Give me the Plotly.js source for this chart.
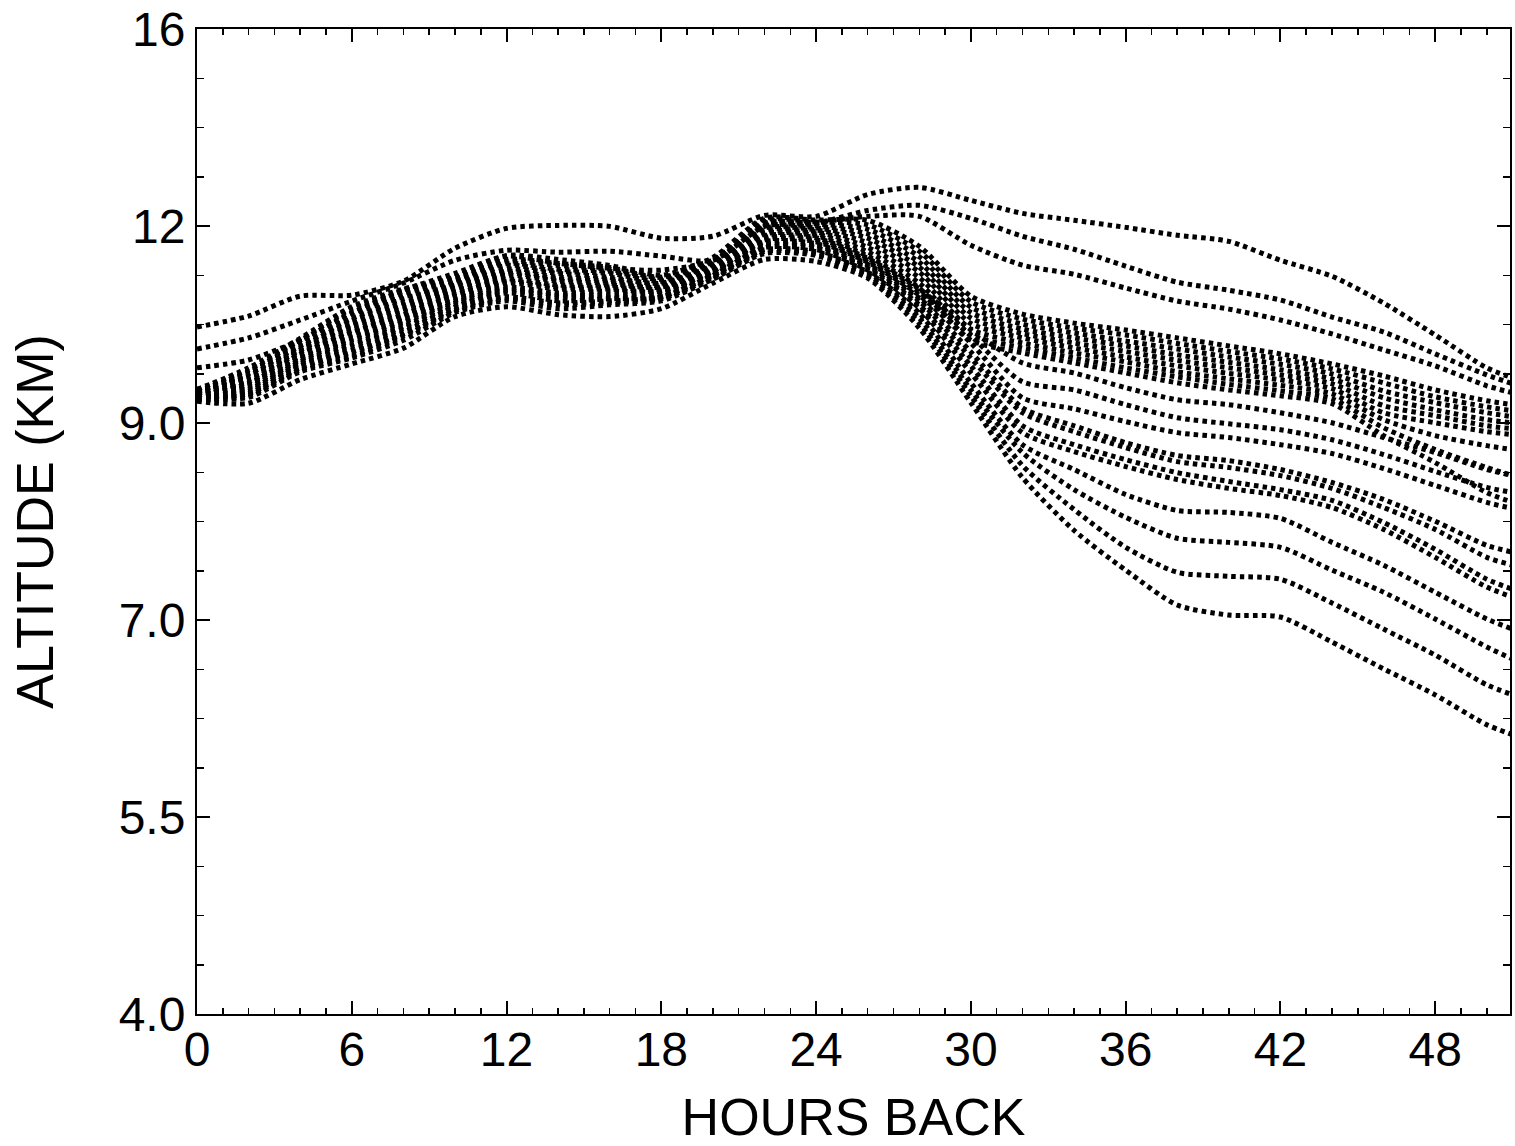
<!DOCTYPE html>
<html>
<head>
<meta charset="utf-8">
<script src="https://cdn.plot.ly/plotly-3.0.1.min.js"></script>
<style>html,body{margin:0;padding:0;background:#fff;}#chart{width:1515px;height:1146px;}</style>
</head>
<body>
<div id="chart"></div>
<script>
// Hours back (x) shared by all trajectories
const HOURS = [0,2,4,6,8,10,12,14,16,18,20,22,24,26,28,30,32,34,36,38,40,42,44,46,48,50,51];

// Vertical coordinate in hPa (axis is linear in pressure, labelled in km)
const U1 = [251.3,245.7,235.6,235.1,228.0,211.3,201.2,199.7,200.2,206.2,205.2,194.6,195.1,184.0,180.4,187.0,193.6,197.1,200.7,204.7,207.8,217.4,225.5,239.1,255.3,272.0,277.1];
const U2 = [262.4,256.8,247.7,238.1,229.0,217.4,212.3,213.3,212.8,215.3,217.4,200.2,198.6,192.1,189.5,196.1,205.2,211.8,220.4,228.5,232.6,237.6,246.2,253.8,264.9,275.6,280.1];
const U3 = [272.0,268.0,257.9,244.2,232.6,224.0,215.3,218.9,221.4,222.4,217.4,198.6,198.1,195.1,195.1,209.8,219.9,224.5,231.5,238.1,242.2,247.7,254.8,262.9,271.0,281.1,284.7];
const B1 = [283,272,257,241,232,226,215,217,220,225,216,196,197,197.1,210.3,235.6,244.7,249.3,252.8,256.8,260.9,264.9,270.0,276.1,283.2,288.7,290.7];
const B2 = [283,273,258,242,233,227,217,219,221,226,217,197,198,199.4,212.8,238.4,247.2,251.8,255.3,259.6,263.7,267.5,272.5,279.6,286.7,291.8,293.8];
const B3 = [284,274,259,244,234,228,218,220,222,226,218,198,199,201.7,215.6,241.2,249.8,254.3,258.4,262.4,266.5,270.2,275.1,283.7,289.7,294.8,296.8];
const B4 = [284,275,260,245,236,229,219,222,223,227,218,199,200,204.0,218.4,243.9,252.3,256.8,260.9,265.4,269.2,273.0,277.6,287.2,293.3,298.3,299.9];
const B5 = [284,275,261,247,237,230,220,223,224,228,219,200,201,206.2,220.9,246.7,254.6,259.4,263.7,268.2,272.0,275.6,280.1,291.2,296.3,301.4,302.9];
const B6 = [285,276,262,248,239,231,222,224,226,229,219,201,202,208.5,223.4,249.5,256.8,261.9,266.5,271.0,274.8,278.1,282.6,294.8,299.9,304.4,305.9];
const S1 = [285,277,263,250,240,232,223,226,227,229,220,202,203,210.8,226.2,252.3,259.4,264.4,269.0,274.0,277.6,280.9,285.2,298.3,306.4,311.5,313.5];
const S2 = [285,278,263,251,242,233,224,227,228,230,220,203,204,213.1,229.0,255.1,261.9,267.0,272.0,276.6,280.4,283.7,287.7,302.4,313.5,322.6,326.7];
const S3 = [285,279,264,253,243,234,225,228,229,231,221,204,205,215.3,231.5,257.9,264.4,269.5,274.6,279.6,283.2,286.2,290.2,306.4,320.1,335.3,340.3];
const LA = [286,280,265,254,245,235,227,230,230,231,221,205,206,216.4,232.0,252.8,269.5,274.6,282.1,288.2,290.7,294.8,299.9,307.4,315.0,323.6,326.7];
const LB = [286,280,266,255,246,236,228,231,231,232,222,206,207,217.4,233.6,255.8,279.1,283.2,290.7,297.3,300.4,303.4,308.5,316.0,324.6,332.7,335.3];
const LC = [286,281,267,257,248,237,229,232,232,233,223,207,208,218.4,235.1,259.4,287.2,292.8,299.3,304.9,307.4,311.0,315.5,323.1,331.7,340.3,343.4];
const T1A = [286,282,268,258,249,238,231,234,233,233,223,208,209,219.4,236.6,263.9,292.3,301.4,310.0,316.5,319.1,323.6,330.2,338.8,349.9,362.1,365.6];
const T1B = [287,283,269,260,251,239,232,235,235,234,224,209,210,220.4,238.1,267.0,294.8,304.4,312.5,319.6,322.6,326.7,333.2,342.9,354.0,368.2,372.2];
const T2A = [287,284,270,261,252,240,233,236,236,235,224,210,211,221.4,240.1,271.0,301.4,311.0,318.6,325.2,329.7,333.8,339.3,350.5,364.1,379.3,384.4];
const T2B = [287,285,271,263,254,241,234,238,237,236,225,211,212,222.4,241.7,274.6,304.9,314.5,322.1,328.7,333.2,336.8,342.9,354.0,368.2,383.3,388.4];
const C4 = [287,285,272,264,255,242,236,239,238,236,225,212,213,223.4,244.2,279.6,311.0,323.6,336.3,344.4,345.4,348.4,360.6,372.2,385.9,399.5,404.6];
const C3 = [288,286,273,266,256,243,237,240,239,237,226,213,214,224.5,246.7,283.2,315.0,333.8,347.9,358.5,360.6,363.1,374.7,385.9,399.5,413.7,419.8];
const C2 = [288,287,274,267,258,244,238,242,240,238,227,214,215,225.5,249.3,286.2,321.6,343.9,363.1,375.8,377.8,379.3,391.4,404.6,417.8,432.9,438.0];
const C1 = [289,290,278,270,262,246,241,245,246,242,229,217,218,226.5,251.8,289.7,327.7,354.5,374.7,392.4,397.5,398.5,411.2,424.8,438.0,453.2,458.2];

const X_TICKS = [0,6,12,18,24,30,36,42,48];
const X_LABELS = ['0','6','12','18','24','30','36','42','48'];
const Y_TICKS = [600,500,400,300,200,100];
const Y_LABELS = ['4.0','5.5','7.0','9.0','12','16'];

const SERIES = [U1,U2,U3,B1,B2,B3,B4,B5,B6,S1,S2,S3,LA,LB,LC,T1A,T1B,T2A,T2B,C4,C3,C2,C1];

const FONT = 'Liberation Sans, Arial, Helvetica, sans-serif';

const traces = SERIES.map(function(ys){
  return {
    x: HOURS, y: ys, type: 'scatter', mode: 'lines',
    line: {color: '#000', width: 5, dash: '4.5px,4.1px', shape: 'spline', smoothing: 0.7},
    hoverinfo: 'skip', showlegend: false
  };
});

const layout = {
  width: 1515, height: 1146,
  margin: {l: 197, r: 5, t: 29, b: 132},
  paper_bgcolor: '#fff', plot_bgcolor: '#fff',
  font: {family: FONT, color: '#000'},
  showlegend: false,
  xaxis: {
    range: [0, 50.9], tickmode: 'array', tickvals: X_TICKS, ticktext: X_LABELS,
    ticks: 'inside', ticklen: 13, tickwidth: 2, tickcolor: '#000',
    ticklabelstandoff: -8,
    showline: true, linewidth: 2, linecolor: '#000', mirror: 'ticks',
    showgrid: false, zeroline: false,
    tickfont: {family: FONT, size: 48, color: '#000'},
    minor: {tickmode: 'linear', tick0: 0, dtick: 1, ticks: 'inside', ticklen: 6, tickwidth: 1.5, tickcolor: '#000', showgrid: false},
    title: {text: 'HOURS BACK', font: {family: FONT, size: 52, color: '#000'}, standoff: 24}
  },
  yaxis: {
    range: [600, 100], tickmode: 'array', tickvals: Y_TICKS, ticktext: Y_LABELS,
    ticks: 'inside', ticklen: 13, tickwidth: 2, tickcolor: '#000',
    showline: true, linewidth: 2, linecolor: '#000', mirror: 'ticks',
    showgrid: false, zeroline: false,
    tickfont: {family: FONT, size: 48, color: '#000'},
    minor: {tickmode: 'linear', tick0: 100, dtick: 25, ticks: 'inside', ticklen: 7, tickwidth: 1.5, tickcolor: '#000', showgrid: false},
    title: {text: 'ALTITUDE (KM)', font: {family: FONT, size: 52, color: '#000'}, standoff: 48}
  }
};

Plotly.newPlot('chart', traces, layout, {staticPlot: true, displayModeBar: false});
</script>
</body>
</html>
